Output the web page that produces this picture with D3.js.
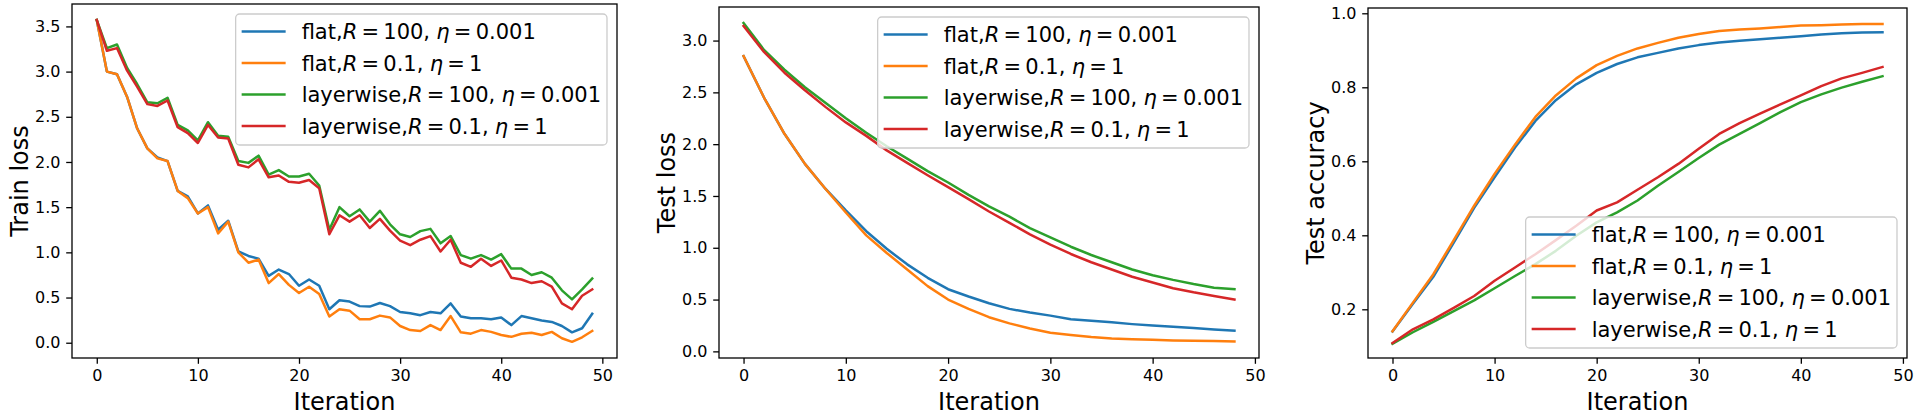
<!DOCTYPE html>
<html>
<head>
<meta charset="utf-8">
<script src="https://cdn.jsdelivr.net/npm/d3@7"></script>
<style>
  body { margin: 0; background: white; }
  svg { display: block; font-family: "DejaVu Sans", sans-serif; }
</style>
</head>
<body>
<div id="chart"></div>
<script>
// iterations
const iterTrain = [0,1,2,3,4,5,6,7,8,9,10,11,12,13,14,15,16,17,18,19,20,21,22,23,24,
    25,26,27,28,29,30,31,32,33,34,35,36,37,38,39,40,41,42,43,44,45,46,47,48,49];
const iterTest = [0,2,4,6,8,10,12,14,16,18,20,22,24,26,28,30,32,34,36,38,40,42,44,46,48];

const seriesNames = ["flat", "flat", "layerwise", "layerwise"];
const seriesR = ["100", "0.1", "100", "0.1"];
const seriesEta = ["0.001", "1", "0.001", "1"];
const colors = ["#1f77b4", "#ff7f0e", "#2ca02c", "#d62728"];

// train loss
const trainFlat100 = [3.57,3.00,2.97,2.72,2.37,2.15,2.05,2.01,1.68,1.62,1.43,1.52,1.25,1.35,1.01,0.96,0.93,0.74,0.81,0.76,
    0.63,0.70,0.63,0.37,0.47,0.455,0.405,0.40,0.44,0.405,0.34,0.325,0.305,0.34,0.325,0.435,0.29,0.27,0.27,0.26,
    0.28,0.195,0.295,0.27,0.245,0.23,0.185,0.115,0.16,0.32];
const trainFlat01 = [3.57,3.00,2.97,2.72,2.37,2.15,2.04,2.01,1.68,1.60,1.43,1.50,1.21,1.34,1.00,0.885,0.92,0.66,0.76,0.64,
    0.55,0.62,0.54,0.29,0.37,0.355,0.26,0.26,0.30,0.28,0.185,0.14,0.13,0.195,0.14,0.295,0.115,0.10,0.14,0.12,
    0.085,0.065,0.10,0.11,0.085,0.12,0.05,0.01,0.06,0.13];
const trainLayer100 = [3.57,3.26,3.30,3.04,2.86,2.66,2.65,2.71,2.41,2.35,2.24,2.44,2.29,2.28,2.01,1.99,2.07,1.86,1.91,1.84,
    1.84,1.87,1.74,1.25,1.50,1.40,1.475,1.34,1.46,1.31,1.20,1.17,1.235,1.26,1.10,1.18,0.97,0.93,0.97,0.92,
    0.98,0.82,0.82,0.75,0.78,0.72,0.58,0.48,0.59,0.71];
const trainLayer01 = [3.57,3.23,3.26,3.01,2.83,2.64,2.62,2.68,2.385,2.32,2.21,2.41,2.27,2.26,1.97,1.94,2.03,1.83,1.85,1.78,
    1.77,1.80,1.71,1.20,1.41,1.34,1.41,1.27,1.37,1.24,1.13,1.08,1.14,1.18,1.01,1.14,0.885,0.84,0.93,0.85,
    0.91,0.72,0.70,0.66,0.68,0.62,0.435,0.37,0.52,0.59];

// test loss
const testFlat100 = [2.85,2.45,2.10,1.81,1.57,1.36,1.16,0.99,0.84,0.71,0.60,0.53,0.465,0.41,0.375,0.345,0.31,0.295,0.28,0.263,
    0.25,0.237,0.225,0.212,0.20];
const testFlat01 = [2.85,2.45,2.10,1.81,1.57,1.34,1.12,0.95,0.79,0.63,0.50,0.41,0.33,0.27,0.22,0.18,0.157,0.138,0.125,0.118,
    0.112,0.106,0.103,0.10,0.096];
const testLayer100 = [3.17,2.91,2.72,2.55,2.40,2.25,2.11,1.98,1.86,1.74,1.63,1.51,1.40,1.30,1.19,1.10,1.01,0.93,0.86,0.79,
    0.735,0.69,0.65,0.615,0.60];
const testLayer01 = [3.14,2.89,2.69,2.52,2.36,2.21,2.08,1.94,1.82,1.70,1.585,1.47,1.35,1.24,1.13,1.03,0.94,0.86,0.79,0.72,
    0.665,0.61,0.57,0.535,0.50];

// test accuracy
const accFlat100 = [0.14,0.215,0.288,0.38,0.474,0.557,0.637,0.709,0.765,0.808,0.839,0.863,0.881,0.893,0.905,0.914,0.921,0.926,0.930,0.934,
    0.938,0.943,0.946,0.948,0.949];
const accFlat01 = [0.141,0.218,0.295,0.387,0.48,0.566,0.645,0.72,0.778,0.824,0.86,0.885,0.905,0.92,0.934,0.944,0.952,0.956,0.959,0.963,
    0.967,0.968,0.970,0.971,0.971];
const accLayer100 = [0.107,0.138,0.166,0.195,0.224,0.257,0.29,0.322,0.358,0.399,0.435,0.462,0.494,0.534,0.571,0.609,0.645,0.674,0.703,0.733,
    0.76,0.781,0.799,0.815,0.83];
const accLayer01 = [0.109,0.146,0.173,0.204,0.236,0.277,0.313,0.349,0.387,0.426,0.467,0.489,0.523,0.557,0.593,0.634,0.674,0.703,0.729,0.754,
    0.778,0.803,0.824,0.839,0.855];

const xTicks = [0,10,20,30,40,50];
const trainTicks = [0.0,0.5,1.0,1.5,2.0,2.5,3.0,3.5];
const testTicks = [0.0,0.5,1.0,1.5,2.0,2.5,3.0];
const accTicks = [0.2,0.4,0.6,0.8,1.0];

const W = 1920, H = 416;
const svg = d3.select("#chart").append("svg")
    .attr("width", W)
    .attr("height", H);

const panels = [
    {box: [72, 617, 4, 358], x: iterTrain, ys: [trainFlat100, trainFlat01, trainLayer100, trainLayer01],
     ydom: [-0.169, 3.748], xdom: [-2.45, 51.45], ticks: trainTicks, fmt: d3.format(".1f"),
     label: "Train loss", legend: "upper"},
    {box: [719, 1259, 7, 358], x: iterTest, ys: [testFlat100, testFlat01, testLayer100, testLayer01],
     ydom: [-0.064, 3.324], xdom: [-2.4, 50.4], ticks: testTicks, fmt: d3.format(".1f"),
     label: "Test loss", legend: "upper"},
    {box: [1368, 1907, 8, 358], x: iterTest, ys: [accFlat100, accFlat01, accLayer100, accLayer01],
     ydom: [0.0684, 1.0143], xdom: [-2.4, 50.4], ticks: accTicks, fmt: d3.format(".1f"),
     label: "Test accuracy", legend: "lower"}
];

const tickLen = 5.8, tickPad = 5.8;

for (const p of panels) {
    const [x0, x1, y0, y1] = p.box;
    const x = d3.scaleLinear().domain(p.xdom).range([x0, x1]);
    const y = d3.scaleLinear().domain(p.ydom).range([y1, y0]);
    const g = svg.append("g");

    // lines
    const line = d3.line().x((d, i) => x(p.x[i])).y(d => y(d));
    p.ys.forEach((vals, k) => {
        g.append("path")
            .datum(vals)
            .attr("d", line)
            .attr("fill", "none")
            .attr("stroke", colors[k])
            .attr("stroke-width", 2.5)
            .attr("stroke-linejoin", "round")
            .attr("stroke-linecap", "square");
    });

    // axes
    const xa = g.append("g").attr("transform", `translate(0,${y1})`)
        .call(d3.axisBottom(x).tickValues(xTicks).tickFormat(d3.format("d"))
            .tickSize(tickLen).tickPadding(tickPad).tickSizeOuter(0));
    const ya = g.append("g").attr("transform", `translate(${x0},0)`)
        .call(d3.axisLeft(y).tickValues(p.ticks).tickFormat(p.fmt)
            .tickSize(tickLen).tickPadding(tickPad).tickSizeOuter(0));
    for (const a of [xa, ya]) {
        a.select(".domain").remove();
        a.selectAll("line").attr("stroke", "#000").attr("stroke-width", 1.3);
        a.selectAll("text").attr("font-size", 16).attr("fill", "#000")
            .attr("font-family", "DejaVu Sans");
    }

    // frame
    g.append("rect")
        .attr("x", x0).attr("y", y0)
        .attr("width", x1 - x0).attr("height", y1 - y0)
        .attr("fill", "none").attr("stroke", "#000").attr("stroke-width", 1.3);

    // labels
    g.append("text")
        .attr("x", (x0 + x1) / 2).attr("y", 410)
        .attr("text-anchor", "middle")
        .attr("font-size", 24)
        .text("Iteration");
    const tickW = d3.max(ya.selectAll("text").nodes(), n => n.getComputedTextLength());
    const lx = x0 - tickLen - tickPad - tickW - 7;
    g.append("text")
        .attr("transform", `translate(${lx},${(y0 + y1) / 2}) rotate(-90)`)
        .attr("text-anchor", "middle")
        .attr("font-size", 24)
        .text(p.label);

    // legend
    const fs = 21;
    const sp = "0.2em";
    const lg = g.append("g");
    const texts = [];
    for (let k = 0; k < 4; k++) {
        const t = lg.append("text").attr("font-size", fs);
        t.append("tspan").text(seriesNames[k] + ",");
        t.append("tspan").attr("font-style", "italic").text("R");
        t.append("tspan").attr("dx", sp).text("=");
        t.append("tspan").attr("dx", sp).text(seriesR[k] + ",");
        t.append("tspan").attr("dx", "0.3em").attr("font-style", "italic").text("η");
        t.append("tspan").attr("dx", sp).text("=");
        t.append("tspan").attr("dx", sp).text(seriesEta[k]);
        texts.push(t);
    }
    const textW = d3.max(texts, t => t.node().getBBox().width);
    const bw = 8 + 40 + 16 + textW + 8;
    const rowH = 31.5;
    const bh = 131;
    const bx = x1 - 10 - bw;
    const by = p.legend === "upper" ? y0 + 10 : y1 - 10 - bh;
    lg.insert("rect", ":first-child")
        .attr("x", bx).attr("y", by)
        .attr("width", bw).attr("height", bh)
        .attr("rx", 4)
        .attr("fill", "white").attr("fill-opacity", 0.8)
        .attr("stroke", "#cccccc").attr("stroke-width", 1.3);
    texts.forEach((t, k) => {
        const cy = by + 17.5 + k * rowH;
        lg.append("line")
            .attr("x1", bx + 6).attr("x2", bx + 50)
            .attr("y1", cy).attr("y2", cy)
            .attr("stroke", colors[k]).attr("stroke-width", 2.5);
        t.attr("x", bx + 66).attr("y", cy + 7.5);
    });
}
</script>
</body>
</html>
